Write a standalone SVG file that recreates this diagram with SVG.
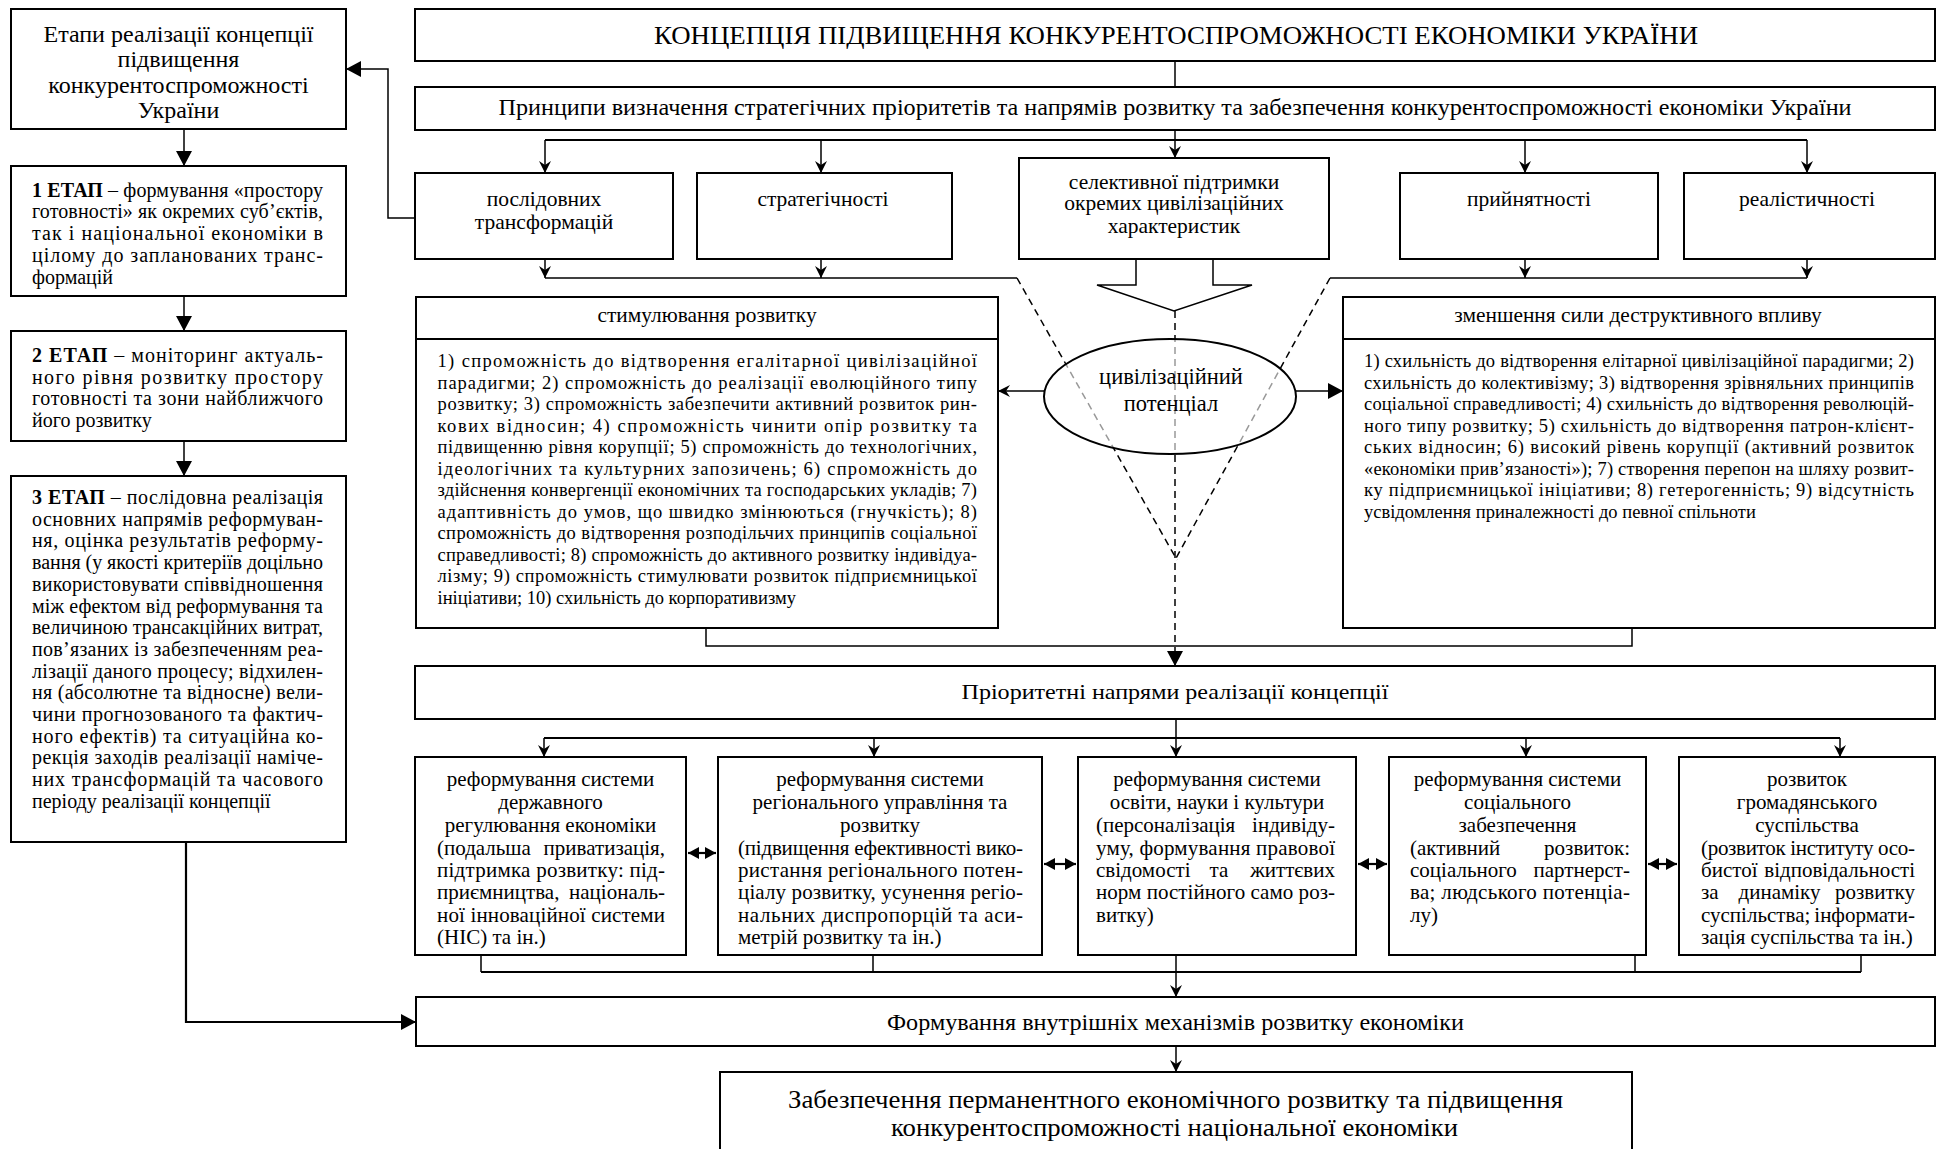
<svg xmlns="http://www.w3.org/2000/svg" width="1945" height="1149" viewBox="0 0 1945 1149">
<style>
text{font-family:"Liberation Serif","Times New Roman",serif;fill:#000}
.box{fill:#fff;stroke:#000;stroke-width:2}
.ln{fill:none;stroke:#000;stroke-width:1.5}
.bold{stroke-width:2.2}
.dash{stroke-dasharray:7 5}
.c{text-anchor:middle}
.e{text-anchor:end}
.lc{font-size:20px}
.bd{font-size:18.5px}
.rw{font-size:21px}
.r2{font-size:21.5px}
.hd{font-size:21.4px}
</style>
<defs>
<marker id="st" viewBox="0 0 12 12" markerWidth="12" markerHeight="12" refX="12" refY="6" orient="auto" markerUnits="userSpaceOnUse"><path d="M0,0 L12,6 L0,12 L4,6 z" fill="#000"/></marker>
<marker id="tri" viewBox="0 0 15 16" markerWidth="15" markerHeight="16" refX="15" refY="8" orient="auto" markerUnits="userSpaceOnUse"><path d="M0,0 L15,8 L0,16 z" fill="#000"/></marker>
<marker id="dbl" viewBox="0 0 11 12" markerWidth="11" markerHeight="12" refX="11" refY="6" orient="auto-start-reverse" markerUnits="userSpaceOnUse"><path d="M0,0 L11,6 L0,12 z" fill="#000"/></marker>
</defs>
<rect width="1945" height="1149" fill="#fff"/>

<g id="connectors">
<path class="ln" d="M1175,61 V87"/>
<path class="ln" d="M1175,130 V158" marker-end="url(#st)"/>
<path class="ln bold" d="M545,140 H1807"/>
<path class="ln" d="M545,140 V173" marker-end="url(#st)"/>
<path class="ln" d="M821,140 V173" marker-end="url(#st)"/>
<path class="ln" d="M1525,140 V173" marker-end="url(#st)"/>
<path class="ln" d="M1807,140 V173" marker-end="url(#st)"/>
<path class="ln" d="M545,259 V278" marker-end="url(#st)"/>
<path class="ln" d="M821,259 V278" marker-end="url(#st)"/>
<path class="ln" d="M1525,259 V278" marker-end="url(#st)"/>
<path class="ln" d="M1807,259 V278" marker-end="url(#st)"/>
<path class="ln" d="M545,278 H1017"/>
<path class="ln" d="M1330,278 H1807"/>
<path class="ln dash" d="M1017,278 L1177,560"/>
<path class="ln dash" d="M1330,278 L1175,560"/>
<polygon class="ln" points="1136,259 1136,285 1097,285 1174,311 1252,285 1213,285 1213,259" style="fill:#fff"/>
<path class="ln dash" d="M1175,311 V666" marker-end="url(#tri)"/>
<path class="ln" d="M1044,391 H998" marker-end="url(#st)"/>
<path class="ln" d="M1296,391 H1343" marker-end="url(#tri)"/>
<path class="ln" d="M706,628 V646 H1632 V628"/>
<path class="ln" d="M1176,719 V757" marker-end="url(#st)"/>
<path class="ln bold" d="M544,738 H1840"/>
<path class="ln" d="M544,738 V757" marker-end="url(#st)"/>
<path class="ln" d="M874,738 V757" marker-end="url(#st)"/>
<path class="ln" d="M1526,738 V757" marker-end="url(#st)"/>
<path class="ln" d="M1840,738 V757" marker-end="url(#st)"/>
<path class="ln bold" d="M688,853 H716" marker-start="url(#dbl)" marker-end="url(#dbl)"/>
<path class="ln bold" d="M1044,864 H1076" marker-start="url(#dbl)" marker-end="url(#dbl)"/>
<path class="ln bold" d="M1358,864 H1387" marker-start="url(#dbl)" marker-end="url(#dbl)"/>
<path class="ln bold" d="M1648,864 H1677" marker-start="url(#dbl)" marker-end="url(#dbl)"/>
<path class="ln" d="M481,955 V972 M873,955 V972 M1635,955 V972 M1861,955 V972"/>
<path class="ln bold" d="M481,972 H1861"/>
<path class="ln" d="M1176,955 V997" marker-end="url(#st)"/>
<path class="ln" d="M1176,1046 V1072" marker-end="url(#st)"/>
<path class="ln" d="M184,129 V166" marker-end="url(#tri)"/>
<path class="ln" d="M184,296 V331" marker-end="url(#tri)"/>
<path class="ln" d="M184,441 V476" marker-end="url(#tri)"/>
<path class="ln bold" d="M186,842 V1022 H416" marker-end="url(#tri)"/>
<path class="ln" d="M415,218 H388 V69 H346" marker-end="url(#tri)"/>
</g>

<g id="etapy">
<rect class="box" x="11" y="9" width="335" height="120"/>
<text class="c" x="178.5" font-size="24"><tspan x="178.5" y="42">Етапи реалізації концепції</tspan><tspan x="178.5" y="67">підвищення</tspan><tspan x="178.5" y="92.5">конкурентоспроможності</tspan><tspan x="178.5" y="118">України</tspan></text>
</g>
<g id="etap1">
<rect class="box" x="11" y="166" width="335" height="130"/>
<text class="lc" x="32" y="196.7" textLength="291" lengthAdjust="spacing"><tspan font-weight="bold">1 ЕТАП</tspan> – формування «простору</text>
<text class="lc" x="32" y="218.4" textLength="291" lengthAdjust="spacing">готовності» як окремих суб’єктів,</text>
<text class="lc" x="32" y="240.1" textLength="291" lengthAdjust="spacing">так і національної економіки в</text>
<text class="lc" x="32" y="261.8" textLength="291" lengthAdjust="spacing">цілому до запланованих транс-</text>
<text class="lc" x="32" y="283.5">формацій</text>
</g>
<g id="etap2">
<rect class="box" x="11" y="331" width="335" height="110"/>
<text class="lc" x="32" y="362" textLength="291" lengthAdjust="spacing"><tspan font-weight="bold">2 ЕТАП</tspan> – моніторинг актуаль-</text>
<text class="lc" x="32" y="383.7" textLength="291" lengthAdjust="spacing">ного рівня розвитку простору</text>
<text class="lc" x="32" y="405.4" textLength="291" lengthAdjust="spacing">готовності та зони найближчого</text>
<text class="lc" x="32" y="427.1">його розвитку</text>
</g>
<g id="etap3">
<rect class="box" x="11" y="476" width="335" height="366"/>
<text class="lc" x="32" y="504" textLength="291" lengthAdjust="spacing"><tspan font-weight="bold">3 ЕТАП</tspan> – послідовна реалізація</text>
<text class="lc" x="32" y="525.7" textLength="291" lengthAdjust="spacing">основних напрямів реформуван-</text>
<text class="lc" x="32" y="547.4" textLength="291" lengthAdjust="spacing">ня, оцінка результатів реформу-</text>
<text class="lc" x="32" y="569.1" textLength="291" lengthAdjust="spacing">вання (у якості критеріїв доцільно</text>
<text class="lc" x="32" y="590.8" textLength="291" lengthAdjust="spacing">використовувати співвідношення</text>
<text class="lc" x="32" y="612.5" textLength="291" lengthAdjust="spacing">між ефектом від реформування та</text>
<text class="lc" x="32" y="634.2" textLength="291" lengthAdjust="spacing">величиною трансакційних витрат,</text>
<text class="lc" x="32" y="655.9" textLength="291" lengthAdjust="spacing">пов’язаних із забезпеченням реа-</text>
<text class="lc" x="32" y="677.6" textLength="291" lengthAdjust="spacing">лізації даного процесу; відхилен-</text>
<text class="lc" x="32" y="699.3" textLength="291" lengthAdjust="spacing">ня (абсолютне та відносне) вели-</text>
<text class="lc" x="32" y="721" textLength="291" lengthAdjust="spacing">чини прогнозованого та фактич-</text>
<text class="lc" x="32" y="742.7" textLength="291" lengthAdjust="spacing">ного ефектів) та ситуаційна ко-</text>
<text class="lc" x="32" y="764.4" textLength="291" lengthAdjust="spacing">рекція заходів реалізації наміче-</text>
<text class="lc" x="32" y="786.1" textLength="291" lengthAdjust="spacing">них трансформацій та часового</text>
<text class="lc" x="32" y="807.8">періоду реалізації концепції</text>
</g>

<g id="title">
<rect class="box" x="415" y="9" width="1520" height="52"/>
<text class="c" x="1176" y="44" font-size="26" textLength="1044" lengthAdjust="spacingAndGlyphs">КОНЦЕПЦІЯ ПІДВИЩЕННЯ КОНКУРЕНТОСПРОМОЖНОСТІ ЕКОНОМІКИ УКРАЇНИ</text>
</g>
<g id="pryntsypy">
<rect class="box" x="415" y="87" width="1520" height="43"/>
<text class="c" x="1175" y="115" font-size="23" textLength="1353" lengthAdjust="spacingAndGlyphs">Принципи визначення стратегічних пріоритетів та напрямів розвитку та забезпечення конкурентоспроможності економіки України</text>
</g>

<g id="poslidovnykh">
<rect class="box" x="415" y="173" width="258" height="86"/>
<text class="c r2" x="544"><tspan x="544" y="205.5">послідовних</tspan><tspan x="544" y="228.5">трансформацій</tspan></text>
</g>
<g id="stratehichnosti">
<rect class="box" x="697" y="173" width="255" height="86"/>
<text class="c r2" x="823" y="205.5">стратегічності</text>
</g>
<g id="selektyvnoi">
<rect class="box" x="1019" y="158" width="310" height="101"/>
<text class="c r2" x="1174"><tspan x="1174" y="188.5">селективної підтримки</tspan><tspan x="1174" y="210">окремих цивілізаційних</tspan><tspan x="1174" y="232.5">характеристик</tspan></text>
</g>
<g id="pryiniatnosti">
<rect class="box" x="1400" y="173" width="258" height="86"/>
<text class="c r2" x="1529" y="205.5">прийнятності</text>
</g>
<g id="realistychnosti">
<rect class="box" x="1684" y="173" width="251" height="86"/>
<text class="c r2" x="1807" y="205.5">реалістичності</text>
</g>

<g id="stymuliuvannia">
<rect class="box" x="416" y="297" width="582" height="331"/>
<line class="ln" x1="416" y1="339" x2="998" y2="339" style="stroke-width:2"/>
<text class="c hd" x="707" y="322">стимулювання розвитку</text>
<g class="bd">
<text x="437.5" y="367" textLength="539.5" lengthAdjust="spacing">1) спроможність до відтворення егалітарної цивілізаційної</text>
<text x="437.5" y="388.5" textLength="539.5" lengthAdjust="spacing">парадигми; 2) спроможність до реалізації еволюційного типу</text>
<text x="437.5" y="410" textLength="539.5" lengthAdjust="spacing">розвитку; 3) спроможність забезпечити активний розвиток рин-</text>
<text x="437.5" y="431.5" textLength="539.5" lengthAdjust="spacing">кових відносин; 4) спроможність чинити опір розвитку та</text>
<text x="437.5" y="453" textLength="539.5" lengthAdjust="spacing">підвищенню рівня корупції; 5) спроможність до технологічних,</text>
<text x="437.5" y="474.5" textLength="539.5" lengthAdjust="spacing">ідеологічних та культурних запозичень; 6) спроможність до</text>
<text x="437.5" y="496" textLength="539.5" lengthAdjust="spacing">здійснення конвергенції економічних та господарських укладів; 7)</text>
<text x="437.5" y="517.5" textLength="539.5" lengthAdjust="spacing">адаптивність до умов, що швидко змінюються (гнучкість); 8)</text>
<text x="437.5" y="539" textLength="539.5" lengthAdjust="spacing">спроможність до відтворення розподільчих принципів соціальної</text>
<text x="437.5" y="560.5" textLength="539.5" lengthAdjust="spacing">справедливості; 8) спроможність до активного розвитку індивідуа-</text>
<text x="437.5" y="582" textLength="539.5" lengthAdjust="spacing">лізму; 9) спроможність стимулювати розвиток підприємницької</text>
<text x="437.5" y="603.5">ініціативи; 10) схильність до корпоративизму</text>
</g>
</g>

<g id="zmenshennia">
<rect class="box" x="1343" y="297" width="592" height="331"/>
<line class="ln" x1="1343" y1="339" x2="1935" y2="339" style="stroke-width:2"/>
<text class="c hd" x="1638" y="322">зменшення сили деструктивного впливу</text>
<g class="bd">
<text x="1364" y="367" textLength="550" lengthAdjust="spacing">1) схильність до відтворення елітарної цивілізаційної парадигми; 2)</text>
<text x="1364" y="388.5" textLength="550" lengthAdjust="spacing">схильність до колективізму; 3) відтворення зрівняльних принципів</text>
<text x="1364" y="410" textLength="550" lengthAdjust="spacing">соціальної справедливості; 4) схильність до відтворення революцій-</text>
<text x="1364" y="431.5" textLength="550" lengthAdjust="spacing">ного типу розвитку; 5) схильність до відтворення патрон-клієнт-</text>
<text x="1364" y="453" textLength="550" lengthAdjust="spacing">ських відносин; 6) високий рівень корупції (активний розвиток</text>
<text x="1364" y="474.5" textLength="550" lengthAdjust="spacing">«економіки прив’язаності»); 7) створення перепон на шляху розвит-</text>
<text x="1364" y="496" textLength="550" lengthAdjust="spacing">ку підприємницької ініціативи; 8) гетерогенність; 9) відсутність</text>
<text x="1364" y="517.5">усвідомлення приналежності до певної спільноти</text>
</g>
</g>

<g id="potentsial">
<ellipse cx="1170" cy="396.5" rx="126" ry="57.5" fill="#fff" fill-opacity="0.6" stroke="#000" stroke-width="2"/>
<text class="c" x="1171" font-size="22.5"><tspan x="1171" y="384">цивілізаційний</tspan><tspan x="1171" y="411">потенціал</tspan></text>
</g>

<g id="priorytetni">
<rect class="box" x="415" y="666" width="1520" height="53"/>
<text class="c" x="1175" y="699" font-size="21.5" textLength="427" lengthAdjust="spacingAndGlyphs">Пріоритетні напрями реалізації концепції</text>
</g>

<g id="reform-derzh">
<rect class="box" x="415" y="757" width="271" height="198"/>
<g class="rw">
<text class="c" x="550.5" y="786">реформування системи</text>
<text class="c" x="550.5" y="809">державного</text>
<text class="c" x="550.5" y="832">регулювання економіки</text>
<text x="437" y="855">(подальша</text><text class="e" x="665" y="855">приватизація,</text>
<text x="437" y="877" textLength="228" lengthAdjust="spacing">підтримка розвитку: під-</text>
<text x="437" y="899">приємництва,</text><text class="e" x="665" y="899">національ-</text>
<text x="437" y="922" textLength="228" lengthAdjust="spacing">ної інноваційної системи</text>
<text x="437" y="944">(НІС) та ін.)</text>
</g>
</g>
<g id="reform-rehion">
<rect class="box" x="718" y="757" width="324" height="198"/>
<g class="rw">
<text class="c" x="880" y="786">реформування системи</text>
<text class="c" x="880" y="809">регіонального управління та</text>
<text class="c" x="880" y="832">розвитку</text>
<text x="738" y="855" textLength="285" lengthAdjust="spacing">(підвищення ефективності вико-</text>
<text x="738" y="877" textLength="285" lengthAdjust="spacing">ристання регіонального потен-</text>
<text x="738" y="899" textLength="285" lengthAdjust="spacing">ціалу розвитку, усунення регіо-</text>
<text x="738" y="922" textLength="285" lengthAdjust="spacing">нальних диспропорцій та аси-</text>
<text x="738" y="944">метрій розвитку та ін.)</text>
</g>
</g>
<g id="reform-osvita">
<rect class="box" x="1078" y="757" width="278" height="198"/>
<g class="rw">
<text class="c" x="1217" y="786">реформування системи</text>
<text class="c" x="1217" y="809">освіти, науки і культури</text>
<text x="1096" y="832">(персоналізація</text><text class="e" x="1335" y="832">індивіду-</text>
<text x="1096" y="855" textLength="239" lengthAdjust="spacing">уму, формування правової</text>
<text x="1096" y="877">свідомості</text><text class="c" x="1219" y="877">та</text><text class="e" x="1335" y="877">життєвих</text>
<text x="1096" y="899" textLength="239" lengthAdjust="spacing">норм постійного само роз-</text>
<text x="1096" y="922">витку)</text>
</g>
</g>
<g id="reform-sots">
<rect class="box" x="1389" y="757" width="257" height="198"/>
<g class="rw">
<text class="c" x="1517.5" y="786">реформування системи</text>
<text class="c" x="1517.5" y="809">соціального</text>
<text class="c" x="1517.5" y="832">забезпечення</text>
<text x="1410" y="855">(активний</text><text class="e" x="1630" y="855">розвиток:</text>
<text x="1410" y="877">соціального</text><text class="e" x="1630" y="877">партнерст-</text>
<text x="1410" y="899" textLength="220" lengthAdjust="spacing">ва; людського потенціа-</text>
<text x="1410" y="922">лу)</text>
</g>
</g>
<g id="hromadianske">
<rect class="box" x="1679" y="757" width="256" height="198"/>
<g class="rw">
<text class="c" x="1807" y="786">розвиток</text>
<text class="c" x="1807" y="809">громадянського</text>
<text class="c" x="1807" y="832">суспільства</text>
<text x="1701" y="855" textLength="214" lengthAdjust="spacing">(розвиток інституту осо-</text>
<text x="1701" y="877">бистої</text><text class="e" x="1915" y="877">відповідальності</text>
<text x="1701" y="899">за</text><text class="c" x="1779.5" y="899">динаміку</text><text class="e" x="1915" y="899">розвитку</text>
<text x="1701" y="922">суспільства;</text><text class="e" x="1915" y="922">інформати-</text>
<text x="1701" y="944">зація суспільства та ін.)</text>
</g>
</g>

<g id="formuvannia">
<rect class="box" x="416" y="997" width="1519" height="49"/>
<text class="c" x="1175.5" y="1030" font-size="22.5" textLength="577" lengthAdjust="spacingAndGlyphs">Формування внутрішніх механізмів розвитку економіки</text>
</g>
<g id="zabezpechennia">
<rect class="box" x="720" y="1072" width="912" height="80"/>
<text class="c" x="1175.5" y="1107.5" font-size="25" textLength="775" lengthAdjust="spacingAndGlyphs">Забезпечення перманентного економічного розвитку та підвищення</text>
<text class="c" x="1174.5" y="1135.5" font-size="25" textLength="567" lengthAdjust="spacingAndGlyphs">конкурентоспроможності національної економіки</text>
</g>
</svg>
